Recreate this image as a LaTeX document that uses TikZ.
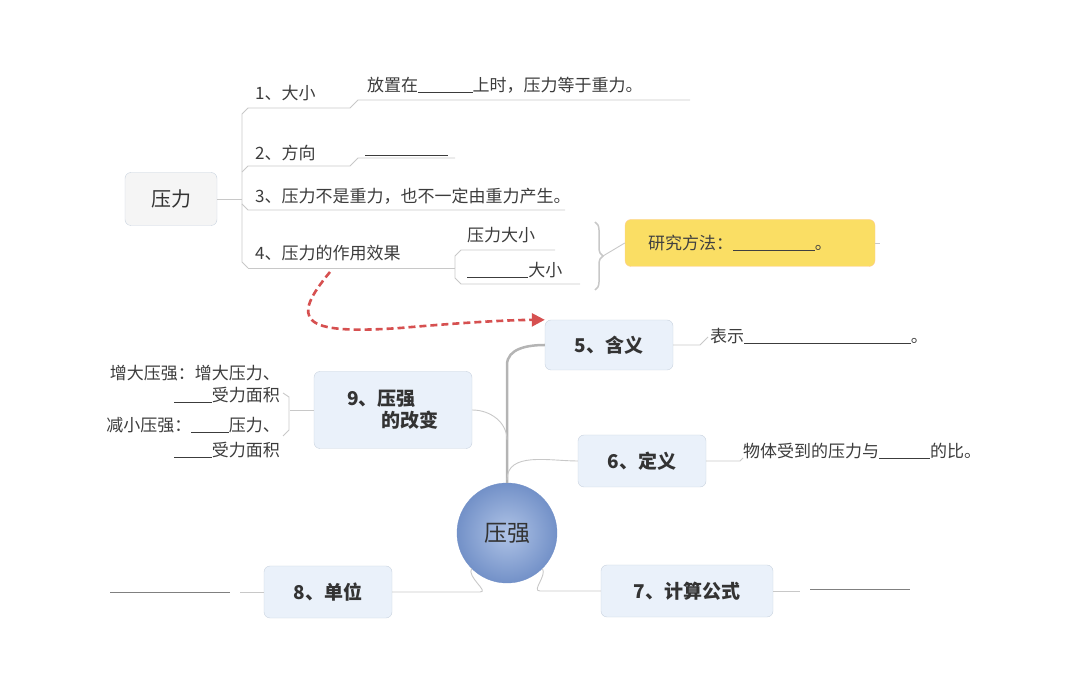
\documentclass[tikz,border=0pt]{standalone}
\usepackage{fontspec}
\setmainfont{Noto Sans CJK SC}
\usetikzlibrary{decorations.pathreplacing,arrows.meta}
\definecolor{boxfill}{RGB}{234,241,250}
\definecolor{boxline}{RGB}{200,210,222}
\definecolor{linec}{RGB}{200,200,200}
\definecolor{txt}{RGB}{60,60,60}
\definecolor{redd}{RGB}{214,80,80}
\definecolor{ylw}{RGB}{250,222,100}
\definecolor{cin}{RGB}{175,195,230}
\definecolor{cout}{RGB}{115,145,200}
\tikzset{
  x=1pt,y=-1pt,
  topic/.style={draw=boxline,fill=boxfill,rounded corners=6pt,font=\fontsize{19}{22}\selectfont\bfseries,text=black!80,align=left,inner sep=0pt},
  lab/.style={font=\fontsize{17}{20}\selectfont,text=txt,anchor=west,inner sep=0pt},
  br/.style={draw=linec,line width=0.9pt},
  trunk/.style={draw=linec!90!black,line width=2.5pt}
}
\begin{document}
\begin{tikzpicture}
\useasboundingbox (0,0) rectangle (1080,692);
% 压力 part
\node[topic,minimum width=92,minimum height=53,fill=gray!8,font=\fontsize{20}{22}\selectfont] (yl) at (171,199) {压力};
\draw[br] (yl.east) -- (242,199);
\draw[br] (248,108) -- (242,114) -- (242,262) -- (248,268);
\node[lab] (t1) at (255,93) {1、大小};
\draw[br] (248,108) -- (350,108) -- (358,100) -- (690,100);
\node[lab] (t1b) at (367,85) {放置在\underline{\hspace{3.2em}}上时，压力等于重力。};
\node[lab] (t2) at (255,153) {2、方向};
\draw[br] (242,172) -- (248,166) -- (350,166) -- (358,158) -- (455,158);
\draw[line width=0.8pt,txt] (365,155) -- (448,155);
\node[lab] (t3) at (255,196) {3、压力不是重力，也不一定由重力产生。};
\draw[br] (242,204) -- (248,210) -- (565,210);
\node[lab] (t4) at (255,253) {4、压力的作用效果};
\draw[br] (248,268) -- (455,268);
\draw[br] (455,268) -- (455,256) -- (461,250) -- (555,250);
\draw[br] (455,268) -- (455,278) -- (461,284) -- (580,284);
\node[lab] (t4a) at (467,235) {压力大小};
\node[lab] (t4b) at (467,270) {\underline{\hspace{3.6em}}大小};
\draw[br,line width=1.5pt,decorate,decoration={brace,amplitude=8pt}] (595,222) -- (595,290);
\node[draw=orange!40,fill=ylw,rounded corners=6pt,minimum width=250,minimum height=47,inner sep=0pt] (yj) at (750,243) {};
\node[lab,text=black!75] at (648,243) {研究方法：\underline{\hspace{4.8em}}。};
\draw[br] (603,256) -- (yj.west);
\draw[br] (yj.east) -- (880,243);
% center
\node[circle,minimum size=100,inner sep=0pt,draw=cout,shading=radial,inner color=cin,outer color=cout,font=\fontsize{23}{26}\selectfont,text=black!80] (yq) at (507,533) {压强};
\node[topic,minimum width=128,minimum height=50] (b5) at (609,345) {5、含义};
\node[topic,minimum width=128,minimum height=52] (b6) at (642,461) {6、定义};
\node[topic,minimum width=158,minimum height=77,align=left] (b9) at (393,410) {9、压强\\\hspace{1.8em}的改变};
\node[topic,minimum width=128,minimum height=52] (b8) at (328,592) {8、单位};
\node[topic,minimum width=172,minimum height=52] (b7) at (687,591) {7、计算公式};
\draw[trunk] (yq.north) -- (507,365) to[out=90,in=180] (b5.west);
\draw[br] (507,440) to[out=90,in=0] (b9.east);
\draw[br] (507,480) to[out=90,in=180] (b6.west);
\draw[br] (b8.east) -- (480,592) to[out=0,in=-120] (yq.south west);
\draw[br] (yq.south east) to[out=-60,in=180] (540,591) -- (b7.west);
% dashed arrow
\coordinate (ds) at (330,272);
\draw[redd,line width=2.6pt,dash pattern=on 7pt off 4pt,-{Triangle[length=13pt,width=13pt]}] (ds) .. controls (290,320) and (300,335) .. (400,328) .. controls (470,322) and (510,320) .. (b5.north west);
% 5
\draw[br] (b5.east) -- (700,345) -- (708,337);
\node[lab] (t5) at (710,336) {表示\underline{\hspace{9.8em}}。};
% 6
\draw[br] (b6.east) -- (740,461) -- (743,458);
\node[lab] (t6) at (743,451) {物体受到的压力与\underline{\hspace{3em}}的比。};
% 9
\draw[br] (b9.west) -- (290,410);
\draw[br] (283,393) -- (289,397) -- (289,430) -- (283,436);
\node[lab,anchor=east] (t9a) at (280,373) {增大压强：增大压力、};
\node[lab,anchor=east] (t9b) at (280,395) {\underline{\hspace{2.2em}}受力面积};
\node[lab,anchor=east] (t9c) at (280,425) {减小压强：\underline{\hspace{2.2em}}压力、};
\node[lab,anchor=east] (t9d) at (280,450) {\underline{\hspace{2.2em}}受力面积};
% 8
\draw[br] (b8.west) -- (240,592);
\draw[line width=0.8pt,gray] (110,592) -- (230,592);
% 7
\draw[br] (b7.east) -- (800,591);
\draw[line width=0.8pt,gray] (810,589) -- (910,589);
\end{tikzpicture}
\end{document}
